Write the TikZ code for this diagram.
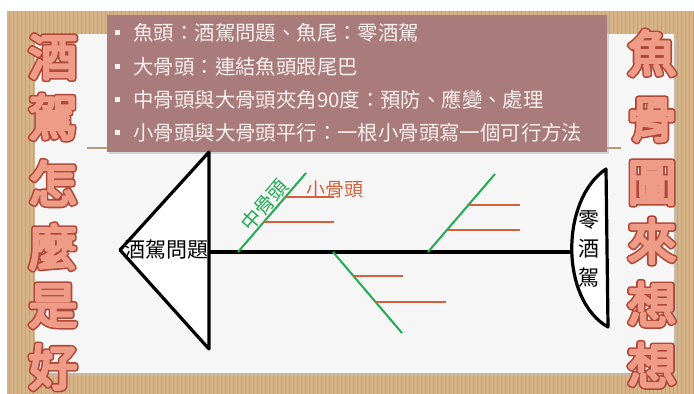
\documentclass[tikz,border=0pt]{standalone}
\usepackage{fontspec}
\newfontfamily\cjk{Noto Sans CJK TC}
\definecolor{tanbg}{HTML}{D7B388}
\definecolor{tanline}{HTML}{C9A173}
\definecolor{paper}{HTML}{F6F6F6}
\definecolor{boxc}{HTML}{A97B7B}
\definecolor{boxtxt}{HTML}{F7F0F0}
\definecolor{bonec}{HTML}{22AA55}
\definecolor{ribc}{HTML}{D2603C}
\tikzset{
  fishline/.style={line width=1.6pt, line join=round, draw=black},
  spine/.style={line width=2pt, draw=black},
  bone/.style={line width=1pt, draw=bonec},
  rib/.style={line width=1pt, draw=ribc},
  boxtext/.style={anchor=west, inner sep=0pt, text=boxtxt, font=\cjk\fontsize{10.2pt}{12pt}\selectfont},
  bullet/.style={fill=boxtxt, minimum size=2.5pt, inner sep=0pt},
  titlechar/.style={inner sep=0pt, font=\cjk\fontsize{24.5pt}{28pt}\selectfont},
  blacktxt/.style={inner sep=0pt, font=\cjk\fontsize{10.5pt}{14.5pt}\selectfont},
}
\newcommand{\ttlchar}[1]{\rlap{\special{pdf:code q 0.69 0.282 0.22 rg 0.69 0.282 0.22 RG 3.0 w 1 j 2 Tr}#1\special{pdf:code Q}}\special{pdf:code q 0.933 0.612 0.533 rg 0.933 0.612 0.533 RG 1.4 w 1 j 2 Tr}#1\special{pdf:code Q}}
\begin{document}
\begin{tikzpicture}[x=0.5pt,y=-0.5pt]
\useasboundingbox (0,0) rectangle (694,394);
\fill[white] (0,0) rectangle (694,394);
% cardboard
\fill[tanbg] (7,11) rectangle (694,394);
\foreach \i in {9,13,...,693} \draw[tanline, line width=0.5pt] (\i,11) -- (\i,394);
% paper
\fill[black!25, opacity=0.5] (37,38) rectangle (677,376);
\fill[paper] (35,34) rectangle (674,373);
\draw[tanline!80!gray, line width=0.6pt] (87,148) -- (621,148);
% text box
\fill[black!30, opacity=0.5] (109,17) rectangle (609,154);
\fill[boxc] (107,15) rectangle (607,152);
\node[bullet] (b1) at (117,33) {};
\node[bullet] (b2) at (117,67) {};
\node[bullet] (b3) at (117,100) {};
\node[bullet] (b4) at (117,133) {};
\node[boxtext] (t1) at (133,33) {魚頭：酒駕問題、魚尾：零酒駕};
\node[boxtext] (t2) at (133,67) {大骨頭：連結魚頭跟尾巴};
\node[boxtext] (t3) at (133,100) {中骨頭與大骨頭夾角90度：預防、應變、處理};
\node[boxtext] (t4) at (133,133) {小骨頭與大骨頭平行：一根小骨頭寫一個可行方法};
% titles
\node[titlechar] (l1) at (53,57) {\ttlchar{酒}};
\node[titlechar] (l2) at (53,117) {\ttlchar{駕}};
\node[titlechar] (l3) at (53,183) {\ttlchar{怎}};
\node[titlechar] (l4) at (53,247) {\ttlchar{麼}};
\node[titlechar] (l5) at (53,306) {\ttlchar{是}};
\node[titlechar] (l6) at (53,367) {\ttlchar{好}};
\node[titlechar] (r1) at (652,53) {\ttlchar{魚}};
\node[titlechar] (r2) at (652,120) {\ttlchar{骨}};
\node[titlechar] (r3) at (652,183) {\ttlchar{圖}};
\node[titlechar] (r4) at (652,241) {\ttlchar{來}};
\node[titlechar] (r5) at (652,304) {\ttlchar{想}};
\node[titlechar] (r6) at (652,365) {\ttlchar{想}};
% fish head
\coordinate (tip) at (120,250);
\coordinate (htop) at (209,152);
\coordinate (hbot) at (209,349);
\draw[fishline, fill=white] (tip) -- (htop) -- (hbot) -- cycle;
\node[blacktxt] (head) at (166,250) {酒駕問題};
% tail
\coordinate (ttop) at (606,169);
\coordinate (tbot) at (608,327);
\draw[fishline, fill=white] (ttop) .. controls (560,200) and (560,300) .. (tbot) -- cycle;
\coordinate (tailw) at (572,252);
\node[blacktxt, align=center] (tail) at (589,249) {零\\酒\\駕};
% spine
\coordinate (spinel) at (209,252);
\draw[spine] (spinel) -- (tailw);
% bone A
\coordinate (a0) at (238,252);
\coordinate (a1) at (306,173);
\draw[bone] (a0) -- (a1);
\coordinate (a2) at (285,197); \coordinate (a3) at (334,197);
\coordinate (a4) at (263,222); \coordinate (a5) at (334,222);
\draw[rib] (a2) -- (a3);
\draw[rib] (a4) -- (a5);
\node[inner sep=0pt, rotate=49, text=bonec, font=\cjk\fontsize{10pt}{12pt}\selectfont] (mid) at (264,205) {中骨頭};
\node[inner sep=0pt, text=ribc, font=\cjk\fontsize{9.5pt}{12pt}\selectfont] (small) at (335,189) {小骨頭};
% bone B
\coordinate (b0) at (333,252);
\coordinate (bb1) at (402,333);
\draw[bone] (b0) -- (bb1);
\coordinate (b2) at (353,276); \coordinate (b3) at (403,276);
\coordinate (b4) at (375,302); \coordinate (b5) at (446,302);
\draw[rib] (b2) -- (b3);
\draw[rib] (b4) -- (b5);
% bone C
\coordinate (c0) at (428,252);
\coordinate (c1) at (495,174);
\draw[bone] (c0) -- (c1);
\coordinate (c2) at (469,205); \coordinate (c3) at (520,205);
\coordinate (c4) at (448,230); \coordinate (c5) at (520,230);
\draw[rib] (c2) -- (c3);
\draw[rib] (c4) -- (c5);
\end{tikzpicture}
\end{document}
